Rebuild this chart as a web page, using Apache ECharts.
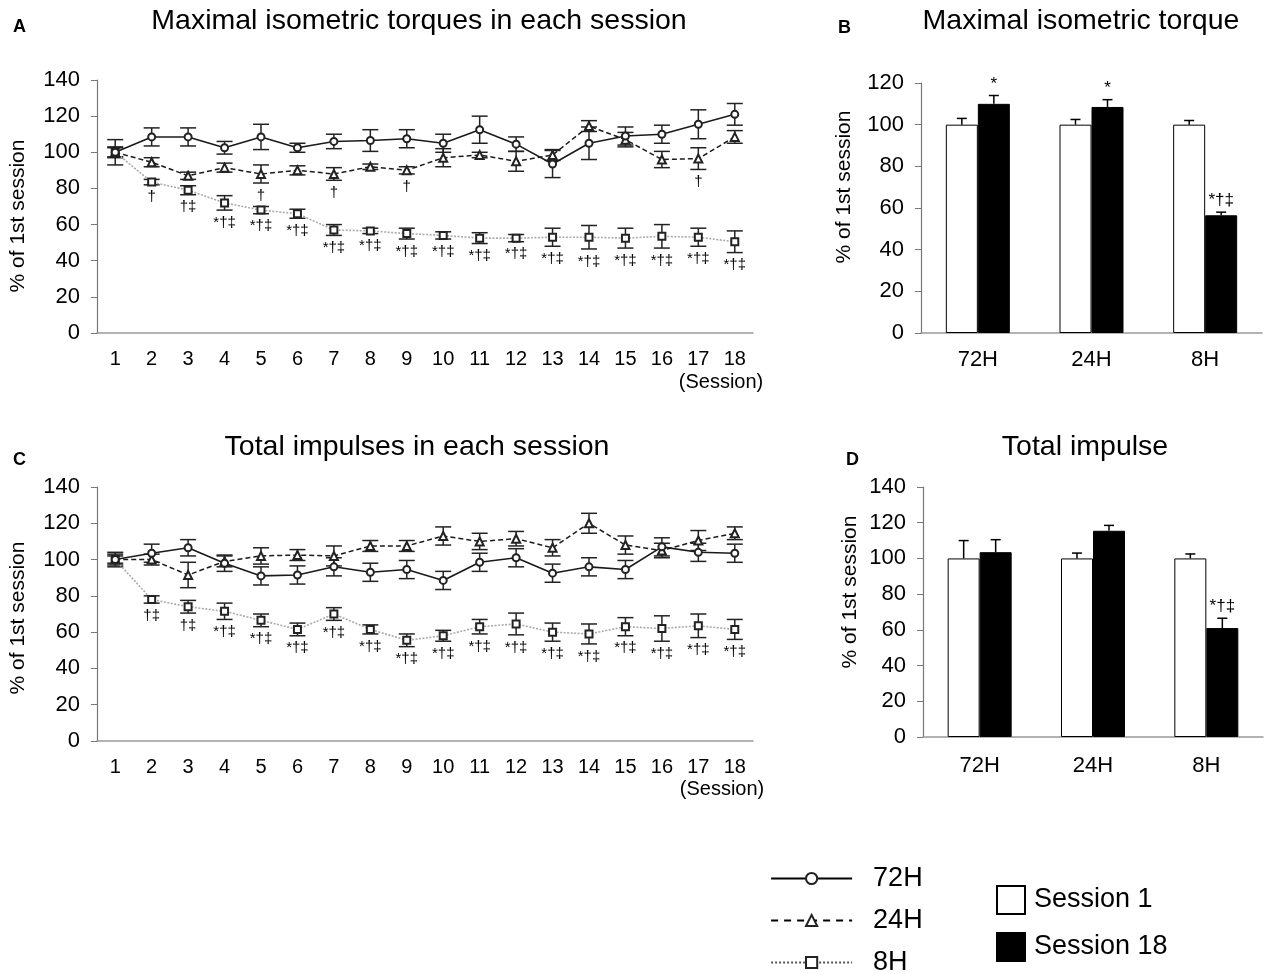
<!DOCTYPE html>
<html lang="en">
<head>
<meta charset="UTF-8">
<script src="https://cdn.jsdelivr.net/npm/echarts@6/dist/echarts.min.js"></script>
<style>
html, body { margin: 0; padding: 0; background: #fff; }
#main { width: 1264px; height: 974px; }
</style>
</head>
<body>
<div id="main"></div>
<script>
// ---- data ----
var sessions = ['1','2','3','4','5','6','7','8','9','10','11','12','13','14','15','16','17','18'];
var groups = ['72H', '24H', '8H'];

// A: maximal isometric torque per session (% of 1st session), mean and SE
var torque72 = [100, 108.5, 108.5, 102.5, 108.5, 102.5, 106, 106.5, 107.5, 105, 112.5, 104.5, 93.5, 105, 109, 110, 115.5, 121];
var torque72Err = [7, 5, 5, 3.5, 7, 2.5, 4, 6, 5, 5, 7.5, 4, 7.5, 9, 5, 5, 8, 6];
var torque24 = [100, 94.5, 87, 91.5, 88, 90, 88, 92, 90, 97, 98.5, 95, 98.5, 114.5, 107, 96, 96.5, 108.5];
var torque24Err = [2.5, 2.5, 2, 2.5, 5, 2.5, 3.5, 1.5, 2, 5, 1.5, 5.5, 3, 3, 4, 4.5, 6, 3.5];
var torque8 = [100, 83.5, 79, 72, 68, 66, 57, 56.5, 55, 54, 52.5, 52.5, 53, 53, 52.5, 53.5, 53, 50.5];
var torque8Err = [3, 1.5, 2.5, 4, 2, 2.5, 3, 1.5, 3, 2, 3, 2, 5, 6.5, 5.5, 6.5, 5, 6];
var torqueSig24 = ['', '', '', '', '†', '', '†', '', '†', '', '', '', '', '', '', '', '†', ''];
var torqueSig8 = ['', '†', '†‡', '*†‡', '*†‡', '*†‡', '*†‡', '*†‡', '*†‡', '*†‡', '*†‡', '*†‡', '*†‡', '*†‡', '*†‡', '*†‡', '*†‡', '*†‡'];

// C: total impulse per session
var impulse72 = [100, 103.5, 106.5, 98, 91, 91.5, 96, 93, 94.5, 88.5, 98.5, 101, 92.5, 96, 94.5, 107, 104, 103.5];
var impulse72Err = [4, 5, 4.5, 4.5, 5, 5, 5, 5, 5, 5, 5, 5, 5, 5, 5, 5, 5, 5];
var impulse24 = [100, 100, 91.5, 99, 102, 102.5, 102, 107.5, 107.5, 113, 110, 111.5, 106.5, 120, 108, 105, 110.5, 114.5];
var impulse24Err = [3, 3, 7, 3, 4.5, 3, 5.5, 3, 3, 5, 4.5, 4, 4.5, 5.5, 5, 4, 5.5, 3.5];
var impulse8 = [100, 78, 74, 71.5, 66.5, 61.5, 70, 61.5, 55.5, 58, 63, 64.5, 60, 59, 63, 62, 63.5, 61.5];
var impulse8Err = [2, 2, 3.5, 4.5, 3.5, 3.5, 3.5, 2.5, 3.5, 3, 4, 6, 5, 5.5, 5, 7, 6.5, 5.5];
var impulseSig8 = ['', '†‡', '†‡', '*†‡', '*†‡', '*†‡', '*†‡', '*†‡', '*†‡', '*†‡', '*†‡', '*†‡', '*†‡', '*†‡', '*†‡', '*†‡', '*†‡', '*†‡'];

// B: maximal isometric torque, session 1 vs session 18
var torqueS1 = [100, 100, 100];
var torqueS1Err = [3, 2.5, 2];
var torqueS18 = [110, 108.5, 56.5];
var torqueS18Err = [4, 3.5, 1.5];
var torqueBarSig = ['*', '*', '*†‡'];

// D: total impulse, session 1 vs session 18
var impulseS1 = [100, 100, 100];
var impulseS1Err = [10, 3, 2.5];
var impulseS18 = [103.5, 115.5, 61];
var impulseS18Err = [7, 3, 5.5];
var impulseBarSig = ['', '', '*†‡'];

var yTicks140 = [0, 140, 20];
var yTicks120 = [0, 120, 20];

// ---- helpers ----
var FONT = '"Liberation Sans", Arial, Helvetica, sans-serif';
var BAR_W = 32;

function errBars(ax, means, errs) {
    return {
        type: 'custom', xAxisIndex: ax, yAxisIndex: ax, z: 2, silent: true,
        data: means.map(function (m, i) { return [i, m, errs[i]]; }),
        encode: { x: 0, y: 1 },
        renderItem: function (params, api) {
            var i = api.value(0), m = api.value(1), e = api.value(2);
            var p1 = api.coord([i, m + e]), p2 = api.coord([i, m - e]);
            var w = 8, st = { stroke: '#222', lineWidth: 1.5 };
            return { type: 'group', children: [
                { type: 'line', shape: { x1: p1[0], y1: p1[1], x2: p2[0], y2: p2[1] }, style: st },
                { type: 'line', shape: { x1: p1[0] - w, y1: p1[1], x2: p1[0] + w, y2: p1[1] }, style: st },
                { type: 'line', shape: { x1: p2[0] - w, y1: p2[1], x2: p2[0] + w, y2: p2[1] }, style: st }
            ] };
        }
    };
}

function sigBelow(ax, means, errs, marks) {
    return {
        type: 'custom', xAxisIndex: ax, yAxisIndex: ax, z: 4, silent: true,
        data: means.map(function (m, i) { return [i, m - errs[i]]; }),
        encode: { x: 0, y: 1 },
        renderItem: function (params, api) {
            var s = marks[params.dataIndex];
            if (!s) return;
            var p = api.coord([api.value(0), api.value(1)]);
            return { type: 'text', x: p[0], y: p[1] + 5, style: {
                text: s, font: '15px ' + FONT, fill: '#000',
                textAlign: 'center', textVerticalAlign: 'top', align: 'center', verticalAlign: 'top' } };
        }
    };
}

function barErr(ax, vals, errs, shift) {
    return {
        type: 'custom', xAxisIndex: ax, yAxisIndex: ax, z: 5, silent: true,
        data: vals.map(function (v, i) { return [i, v, errs[i]]; }),
        encode: { x: 0, y: 1 },
        renderItem: function (params, api) {
            var i = api.value(0), v = api.value(1), e = api.value(2);
            var p1 = api.coord([i, v]), p2 = api.coord([i, v + e]);
            var x = p1[0] + shift, w = 5, st = { stroke: '#000', lineWidth: 1.5 };
            return { type: 'group', children: [
                { type: 'line', shape: { x1: x, y1: p1[1], x2: x, y2: p2[1] }, style: st },
                { type: 'line', shape: { x1: x - w, y1: p2[1], x2: x + w, y2: p2[1] }, style: st }
            ] };
        }
    };
}

function sigAbove(ax, vals, errs, marks, shift) {
    return {
        type: 'custom', xAxisIndex: ax, yAxisIndex: ax, z: 5, silent: true,
        data: vals.map(function (v, i) { return [i, v + errs[i]]; }),
        encode: { x: 0, y: 1 },
        renderItem: function (params, api) {
            var s = marks[params.dataIndex];
            if (!s) return;
            var p = api.coord([api.value(0), api.value(1)]);
            return { type: 'text', x: p[0] + shift, y: p[1] - 3, style: {
                text: s, font: '17px ' + FONT, fill: '#000',
                textAlign: 'center', textVerticalAlign: 'bottom', align: 'center', verticalAlign: 'bottom' } };
        }
    };
}

function lineSer(name, ax, data, symbol, size, ls) {
    return {
        name: name, type: 'line', xAxisIndex: ax, yAxisIndex: ax, z: 3,
        data: data, symbol: symbol, symbolSize: size, showSymbol: true,
        itemStyle: { color: '#222', borderWidth: 1.3 },
        lineStyle: ls, emphasis: { disabled: true }
    };
}

function barSer(name, ax, data, fill) {
    return {
        name: name, type: 'bar', xAxisIndex: ax, yAxisIndex: ax, z: 2,
        data: data, barWidth: BAR_W, barGap: '0%',
        itemStyle: { color: fill, borderColor: '#000', borderWidth: 1 },
        emphasis: { disabled: true }
    };
}

function xCat(grid, cats, fs, margin) {
    return {
        type: 'category', gridIndex: grid, data: cats, boundaryGap: true,
        axisLine: { lineStyle: { color: '#999', width: 1.5 } },
        axisTick: { show: false },
        axisLabel: { color: '#000', fontSize: fs, fontFamily: FONT, margin: margin, interval: 0 }
    };
}

function yVal(grid, t) {
    return {
        type: 'value', gridIndex: grid, min: t[0], max: t[1], interval: t[2],
        axisLine: { show: true, lineStyle: { color: '#777', width: 1.2 } },
        axisTick: { show: true, length: 6, lineStyle: { color: '#777' } },
        splitLine: { show: false },
        axisLabel: { color: '#000', fontSize: 22, fontFamily: FONT, margin: 17 }
    };
}

function yName(x, y) {
    return { type: 'text', x: x, y: y, rotation: Math.PI / 2, style: {
        text: '% of 1st session', font: '21px ' + FONT, fill: '#000',
        textAlign: 'center', textVerticalAlign: 'middle', align: 'center', verticalAlign: 'middle' } };
}

function plain(text, x, y, fs) {
    return { type: 'text', x: x, y: y, style: {
        text: text, font: fs + 'px ' + FONT, fill: '#000',
        textAlign: 'center', textVerticalAlign: 'middle', align: 'center', verticalAlign: 'middle' } };
}

var solid = { color: '#1a1a1a', width: 1.6, type: 'solid' };
var dashed = { color: '#1a1a1a', width: 1.5, type: [5, 3] };
var dotted = { color: '#aaa', width: 1.6, type: [2, 1.5] };

var chart = echarts.init(document.getElementById('main'), null, { renderer: 'canvas' });

var option = {
    backgroundColor: '#fff',
    animation: false,
    textStyle: { fontFamily: FONT },
    title: [
        { text: 'A', left: 13, top: 18, padding: 0, textStyle: { fontSize: 18, fontWeight: 'bold', fontFamily: FONT, color: '#000' } },
        { text: 'Maximal isometric torques in each session', left: 419, top: 7, padding: 0, textAlign: 'center',
          textStyle: { fontSize: 28.5, fontWeight: 'normal', fontFamily: FONT, color: '#000' } },
        { text: 'B', left: 838, top: 19, padding: 0, textStyle: { fontSize: 18, fontWeight: 'bold', fontFamily: FONT, color: '#000' } },
        { text: 'Maximal isometric torque', left: 1081, top: 7, padding: 0, textAlign: 'center',
          textStyle: { fontSize: 28.5, fontWeight: 'normal', fontFamily: FONT, color: '#000' } },
        { text: 'C', left: 13, top: 451, padding: 0, textStyle: { fontSize: 18, fontWeight: 'bold', fontFamily: FONT, color: '#000' } },
        { text: 'Total impulses in each session', left: 417, top: 433, padding: 0, textAlign: 'center',
          textStyle: { fontSize: 28.5, fontWeight: 'normal', fontFamily: FONT, color: '#000' } },
        { text: 'D', left: 846, top: 451, padding: 0, textStyle: { fontSize: 18, fontWeight: 'bold', fontFamily: FONT, color: '#000' } },
        { text: 'Total impulse', left: 1085, top: 433, padding: 0, textAlign: 'center',
          textStyle: { fontSize: 28.5, fontWeight: 'normal', fontFamily: FONT, color: '#000' } }
    ],
    grid: [
        { left: 97, top: 80, width: 656, height: 253 },
        { left: 921, top: 83, width: 341, height: 250 },
        { left: 97, top: 487, width: 656, height: 254 },
        { left: 923, top: 487, width: 340, height: 250 }
    ],
    xAxis: [
        xCat(0, sessions, 20, 16),
        xCat(1, groups, 22, 16),
        xCat(2, sessions, 20, 16),
        xCat(3, groups, 22, 18)
    ],
    yAxis: [yVal(0, yTicks140), yVal(1, yTicks120), yVal(2, yTicks140), yVal(3, yTicks140)],
    legend: [
        {
            orient: 'vertical', left: 770, top: 865, width: 180, height: 160, padding: 0,
            itemWidth: 81, itemHeight: 14, itemGap: 15, selectedMode: false,
            textStyle: { fontSize: 27, fontFamily: FONT, color: '#000', padding: [0, 0, 0, 16] },
            data: [
                { name: '72H', lineStyle: { width: 2.2, color: '#000' } },
                { name: '24H', lineStyle: { width: 2, color: '#000', type: [7, 6] } },
                { name: '8H', lineStyle: { width: 2, color: '#555', type: [2, 2] } }
            ]
        },
        {
            orient: 'vertical', left: 996, top: 885, width: 200, height: 120, padding: 0,
            itemWidth: 28, itemHeight: 28, itemGap: 17, icon: 'rect', selectedMode: false,
            textStyle: { fontSize: 27, lineHeight: 28, fontFamily: FONT, color: '#000', padding: [0, 0, 0, 4] },
            data: [
                { name: 'Session 1', itemStyle: { borderWidth: 2 } },
                { name: 'Session 18', itemStyle: { borderWidth: 2 } }
            ]
        }
    ],
    graphic: [
        yName(18, 216), yName(844, 187), yName(18, 618), yName(850, 592),
        plain('(Session)', 721, 382, 20), plain('(Session)', 722, 789, 20)
    ],
    series: [
        // A
        errBars(0, torque72, torque72Err), errBars(0, torque24, torque24Err), errBars(0, torque8, torque8Err),
        lineSer('8H', 0, torque8, 'emptyRect', 7, dotted),
        lineSer('24H', 0, torque24, 'emptyTriangle', 8, dashed),
        lineSer('72H', 0, torque72, 'emptyCircle', 7, solid),
        sigBelow(0, torque24, torque24Err, torqueSig24),
        sigBelow(0, torque8, torque8Err, torqueSig8),
        // B
        barSer('Session 1', 1, torqueS1, '#fff'), barSer('Session 18', 1, torqueS18, '#000'),
        barErr(1, torqueS1, torqueS1Err, -BAR_W / 2), barErr(1, torqueS18, torqueS18Err, BAR_W / 2),
        sigAbove(1, torqueS18, torqueS18Err, torqueBarSig, BAR_W / 2),
        // C
        errBars(2, impulse72, impulse72Err), errBars(2, impulse24, impulse24Err), errBars(2, impulse8, impulse8Err),
        lineSer('8H', 2, impulse8, 'emptyRect', 7, dotted),
        lineSer('24H', 2, impulse24, 'emptyTriangle', 8, dashed),
        lineSer('72H', 2, impulse72, 'emptyCircle', 7, solid),
        sigBelow(2, impulse8, impulse8Err, impulseSig8),
        // D
        barSer('Session 1', 3, impulseS1, '#fff'), barSer('Session 18', 3, impulseS18, '#000'),
        barErr(3, impulseS1, impulseS1Err, -BAR_W / 2), barErr(3, impulseS18, impulseS18Err, BAR_W / 2),
        sigAbove(3, impulseS18, impulseS18Err, impulseBarSig, BAR_W / 2)
    ]
};
chart.setOption(option);
</script>
</body>
</html>
